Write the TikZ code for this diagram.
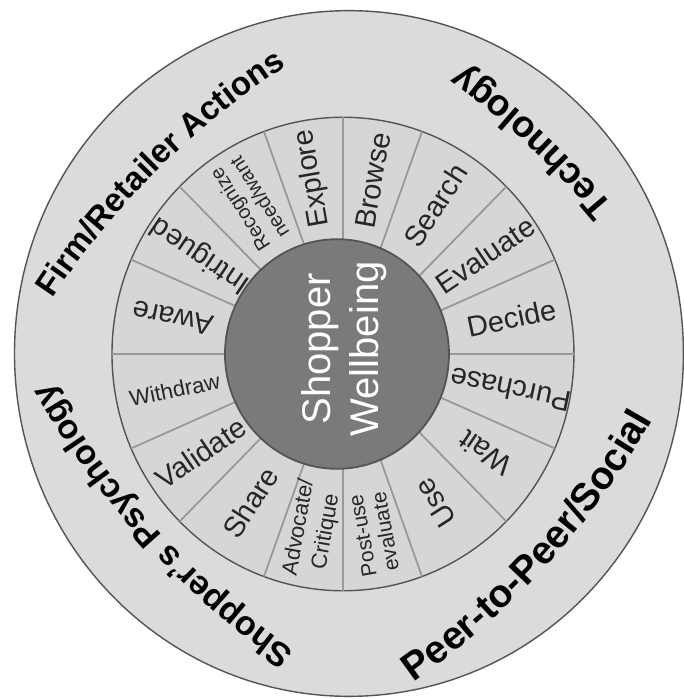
\documentclass[tikz,border=0pt]{standalone}
\usepackage{fontspec}
\setmainfont{Liberation Sans}
\usetikzlibrary{decorations.text}
\definecolor{bandgray}{gray}{0.86}
\definecolor{ringgray}{gray}{0.84}
\definecolor{hubgray}{gray}{0.48}
\definecolor{rimgray}{gray}{0.33}
\definecolor{spokegray}{gray}{0.6}
\definecolor{inkgray}{gray}{0.15}
\def\bandbig{\fontsize{18.5}{22}\selectfont\bfseries}
\def\bandpeer{\fontsize{19.5}{23}\selectfont\bfseries}
\def\bandmid{\fontsize{16.5}{20}\selectfont\bfseries}
\def\bandlow{\fontsize{17}{20}\selectfont\bfseries}

\begin{document}
\begin{tikzpicture}[x=0.5pt, y=0.5125pt,
    rim/.style={line width=0.7pt, draw=rimgray},
    spoke/.style={line width=0.9pt, draw=spokegray},
    stage/.style={text=inkgray, inner sep=0pt, align=center, font=\fontsize{14.5}{17}\selectfont},
    stagesmall/.style={stage, font=\fontsize{11}{13.8}\selectfont},
    stagetiny/.style={stage, font=\fontsize{10}{11.5}\selectfont},
    bandarc/.style={decorate, decoration={text along path, text align=center, text color=black, text={#1}}},
    hubtext/.style={text=white, align=center, inner sep=0pt, font=\fontsize{20}{24}\selectfont}]
		%%%%% START %%%%%
		
		\useasboundingbox[fill=white] (-343,-336.6) rectangle (341,345.4);
		
		\draw[rim, fill=bandgray] (6,0.5) circle (334.5);
		\draw[rim, fill=ringgray] (0,0) circle (231);
		
		\draw[spoke] (0:100) -- (0:231);
		\draw[spoke] (23.5:100) -- (23.5:231);
		\draw[spoke] (45:100) -- (45:231);
		\draw[spoke] (70:100) -- (70:231);
		\draw[spoke] (90:100) -- (90:231);
		\draw[spoke] (110:100) -- (110:231);
		\draw[spoke] (135:100) -- (135:231);
		\draw[spoke] (156.5:100) -- (156.5:231);
		\draw[spoke] (180:100) -- (180:231);
		\draw[spoke] (203.5:100) -- (203.5:231);
		\draw[spoke] (225:100) -- (225:231);
		\draw[spoke] (250:100) -- (250:231);
		\draw[spoke] (270:100) -- (270:231);
		\draw[spoke] (290:100) -- (290:231);
		\draw[spoke] (315:100) -- (315:231);
		\draw[spoke] (336.5:100) -- (336.5:231);
		
		\draw[rim, line width=0.9pt, fill=hubgray] (-6,0) circle (112);
		\node[hubtext, rotate=90] (hub) at (1,5) {Shopper\\Wellbeing};
		
		% stages, read outward on the upper half
		\node[stage, rotate=11.75] (decide) at (11.75:172) {Decide};
		\node[stage, rotate=34.25] (evaluate) at (34.25:172) {Evaluate};
		\node[stage, rotate=57.5] (search) at (57.5:172) {Search};
		\node[stage, rotate=80] (browse) at (80:172) {Browse};
		\node[stage, rotate=100] (explore) at (100:174) {Explore};
		\node[stagetiny, rotate=122.5] (recognize) at (122.5:174) {Recognize\\need/want};
		\node[stage, rotate=145.75] (intrigued) at (145.75:172) {Intrigued};
		\node[stage, rotate=168.25] (aware) at (168.25:174) {Aware};
		
		% stages, read inward on the lower half
		\node[stagesmall, rotate=11.75] (withdraw) at (191.75:172) {Withdraw};
		\node[stage, rotate=34.25] (validate) at (214.25:172) {Validate};
		\node[stage, rotate=57.5] (share) at (237.5:172) {Share};
		\node[stagesmall, rotate=80] (advocate) at (260:174) {Advocate/\\Critique};
		\node[stagetiny, rotate=100, font=\fontsize{10.5}{11.5}\selectfont] (postuse) at (280:178) {Post-use\\evaluate};
		\node[stage, rotate=122.5] (use) at (302.5:172) {Use};
		\node[stage, rotate=145.75] (wait) at (325.75:172) {Wait};
		\node[stage, rotate=168.25] (purchase) at (348.25:171) {Purchase};
		
		% outer band, gently bent lines of text
		\path[bandarc={|\bandmid|Firm/Retailer Actions}] (370.9,-395.7) ++(149:800) arc[start angle=149, end angle=119, radius=800];
		\path[bandarc={|\bandbig|Technology}] (-340.4,-373) ++(35.6:800) arc[start angle=35.6, end angle=59.6, radius=800];
		\path[bandarc={|\bandlow|Shopper's Psychology}] (400,373) ++(238:800) arc[start angle=238, end angle=208, radius=800];
		\path[bandarc={|\bandpeer|Peer-to-Peer/Social}] (-380.8,339.9) ++(302:800) arc[start angle=302, end angle=332, radius=800];
		
		%%%%% END %%%%%
	\end{tikzpicture}
\end{document}
